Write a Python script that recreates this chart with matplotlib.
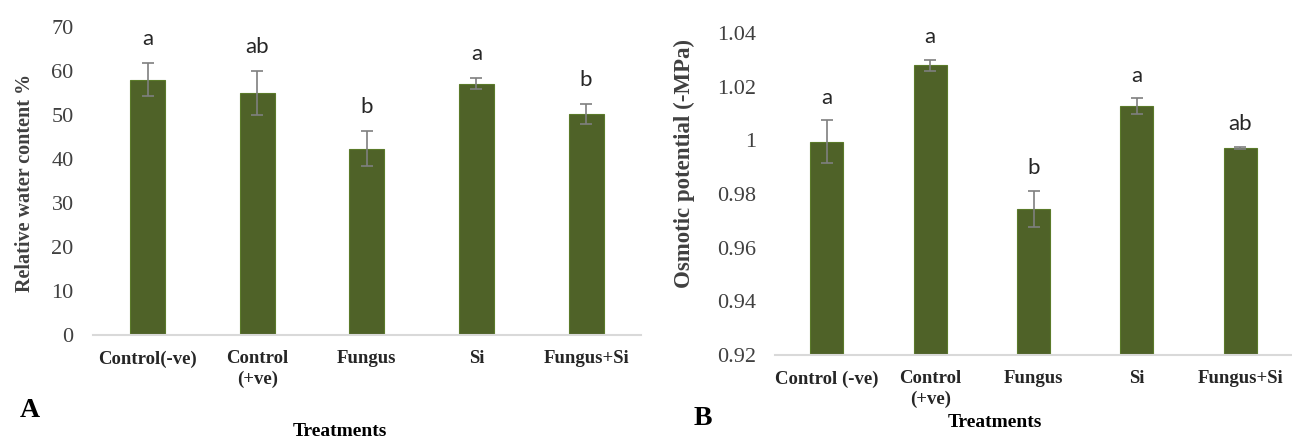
import numpy as np
import matplotlib
matplotlib.use("Agg")
import matplotlib.pyplot as plt

# Relative water content (%)
rwc_labels = ["Control(-ve)", "Control\n(+ve)", "Fungus", "Si", "Fungus+Si"]
rwc_mean = [58.0, 55.0, 42.3, 57.1, 50.2]
rwc_err = [3.8, 5.0, 4.0, 1.3, 2.3]
rwc_sig = ["a", "ab", "b", "a", "b"]

# Osmotic potential (-MPa)
op_labels = ["Control (-ve)", "Control\n(+ve)", "Fungus", "Si", "Fungus+Si"]
op_mean = [0.9995, 1.0280, 0.9744, 1.0128, 0.9972]
op_err = [0.0080, 0.0020, 0.0068, 0.0030, 0.0004]
op_sig = ["a", "a", "b", "a", "ab"]

bar_color = "#4f6228"
err_color = "#7f7f7f"
serif = "Liberation Serif"
letter_font = "Lato"

fig = plt.figure(figsize=(12.92, 4.42), dpi=100)


def bar_panel(rect, labels, mean, err, sig, ylim, ticks, fmt, gap):
    ax = fig.add_axes(rect)
    x = np.arange(len(mean))
    ax.bar(x, mean, width=0.32, color=bar_color, edgecolor="#5b7a2a",
           linewidth=0.8, zorder=2)
    ax.errorbar(x, mean, yerr=err, fmt="none", ecolor=err_color,
                elinewidth=1.2, capsize=4, capthick=1.2, zorder=3)
    for xi, m, e, s in zip(x, mean, err, sig):
        ax.annotate(s, (xi, m + e), xytext=(0, gap), textcoords="offset points",
                    ha="center", va="bottom", fontsize=16, family=letter_font,
                    color="#262626")
    ax.set_xlim(-0.5, len(mean) - 0.5)
    ax.set_ylim(*ylim)
    ax.set_yticks(ticks)
    ax.set_yticklabels([fmt(t) for t in ticks], family=serif, fontsize=16,
                       color="#404040")
    ax.set_xticks(x)
    ax.set_xticklabels(labels, family=serif, fontsize=13.5, fontweight="bold",
                       color="#262626", linespacing=1.25)
    for side in ["left", "right", "top"]:
        ax.spines[side].set_visible(False)
    ax.spines["bottom"].set_color("#d9d9d9")
    ax.spines["bottom"].set_linewidth(1.5)
    ax.tick_params(axis="both", length=0)
    ax.tick_params(axis="y", pad=14)
    ax.tick_params(axis="x", pad=11)
    return ax


bar_panel([0.072, 0.242, 0.424, 0.697], rwc_labels, rwc_mean, rwc_err, rwc_sig,
          (0, 70), np.arange(0, 71, 10), lambda t: "%d" % t, 10)

bar_panel([0.600, 0.197, 0.400, 0.728], op_labels, op_mean, op_err, op_sig,
          (0.92, 1.04), np.round(np.arange(0.92, 1.0401, 0.02), 2),
          lambda t: ("%g" % t), 9)

fig.text(0.019, 0.586, "Relative water content %", rotation=90, ha="center",
         va="center", family=serif, fontweight="bold", fontsize=14.5,
         color="#404040")
fig.text(0.530, 0.631, "Osmotic potential (-MPa)", rotation=90, ha="center",
         va="center", family=serif, fontweight="bold", fontsize=16.5,
         color="#404040")

fig.text(0.263, 0.023, "Treatments", ha="center", va="center", family=serif,
         fontweight="bold", fontsize=14)
fig.text(0.770, 0.045, "Treatments", ha="center", va="center", family=serif,
         fontweight="bold", fontsize=14)

fig.text(0.015, 0.072, "A", ha="left", va="center", family=serif,
         fontweight="bold", fontsize=20)
fig.text(0.537, 0.054, "B", ha="left", va="center", family=serif,
         fontweight="bold", fontsize=20)

fig.savefig("out.png", dpi=100)
